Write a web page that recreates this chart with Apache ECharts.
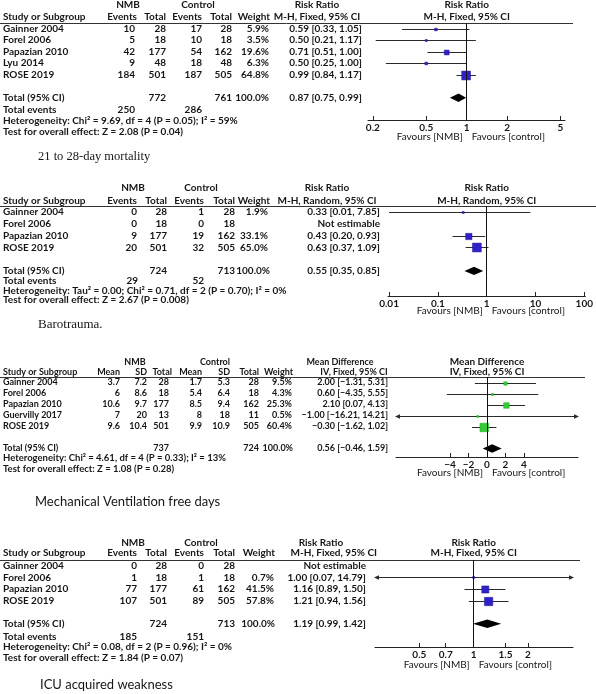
<!DOCTYPE html>
<html><head><meta charset="utf-8">
<script src="https://cdn.jsdelivr.net/npm/echarts@6/dist/echarts.min.js"></script>
<style>html,body{margin:0;padding:0;background:#fff}#c{width:596px;height:694px}</style>
</head><body><div id="c"></div><script>
// ===================== DATA =====================
// Panel 1: 21 to 28-day mortality (Risk Ratio, M-H, Fixed)
const mortStudies = ['Gainner 2004', 'Forel 2006', 'Papazian 2010', 'Lyu 2014', 'ROSE 2019'];
const mortNmbEvents = [10, 5, 42, 9, 184];
const mortNmbTotal = [28, 18, 177, 48, 501];
const mortCtlEvents = [17, 10, 54, 18, 187];
const mortCtlTotal = [28, 18, 162, 48, 505];
const mortWeight = [5.9, 3.5, 19.6, 6.3, 64.8];
const mortEst = [0.59, 0.50, 0.71, 0.50, 0.99];
const mortLo = [0.33, 0.21, 0.51, 0.25, 0.84];
const mortHi = [1.05, 1.17, 1.00, 1.00, 1.17];
const mortPooled = [0.87, 0.75, 0.99];
const mortTotals = [772, 761];
const mortTotalEvents = [250, 286];
const mortTicks = [0.2, 0.5, 1, 2, 5];
const mortHet = 'Heterogeneity: Chi² = 9.69, df = 4 (P = 0.05); I² = 59%';
const mortTest = 'Test for overall effect: Z = 2.08 (P = 0.04)';

// Panel 2: Barotrauma (Risk Ratio, M-H, Random)
const baroStudies = ['Gainner 2004', 'Forel 2006', 'Papazian 2010', 'ROSE 2019'];
const baroNmbEvents = [0, 0, 9, 20];
const baroNmbTotal = [28, 18, 177, 501];
const baroCtlEvents = [1, 0, 19, 32];
const baroCtlTotal = [28, 18, 162, 505];
const baroWeight = [1.9, null, 33.1, 65.0];
const baroEst = [0.33, null, 0.43, 0.63];
const baroLo = [0.01, null, 0.20, 0.37];
const baroHi = [7.85, null, 0.93, 1.09];
const baroPooled = [0.55, 0.35, 0.85];
const baroTotals = [724, 713];
const baroTotalEvents = [29, 52];
const baroTicks = [0.01, 0.1, 1, 10, 100];
const baroHet = 'Heterogeneity: Tau² = 0.00; Chi² = 0.71, df = 2 (P = 0.70); I² = 0%';
const baroTest = 'Test for overall effect: Z = 2.67 (P = 0.008)';

// Panel 3: Mechanical ventilation free days (Mean Difference, IV, Fixed)
const mvfdStudies = ['Gainner 2004', 'Forel 2006', 'Papazian 2010', 'Guervilly 2017', 'ROSE 2019'];
const mvfdNmbMean = [3.7, 6, 10.6, 7, 9.6];
const mvfdNmbSD = [7.2, 8.6, 9.7, 20, 10.4];
const mvfdNmbTotal = [28, 18, 177, 13, 501];
const mvfdCtlMean = [1.7, 5.4, 8.5, 8, 9.9];
const mvfdCtlSD = [5.3, 6.4, 9.4, 18, 10.9];
const mvfdCtlTotal = [28, 18, 162, 11, 505];
const mvfdWeight = [9.5, 4.3, 25.3, 0.5, 60.4];
const mvfdEst = [2.00, 0.60, 2.10, -1.00, -0.30];
const mvfdLo = [-1.31, -4.35, 0.07, -16.21, -1.62];
const mvfdHi = [5.31, 5.55, 4.13, 14.21, 1.02];
const mvfdPooled = [0.56, -0.46, 1.59];
const mvfdTotals = [737, 724];
const mvfdTicks = [-4, -2, 0, 2, 4];
const mvfdHet = 'Heterogeneity: Chi² = 4.61, df = 4 (P = 0.33); I² = 13%';
const mvfdTest = 'Test for overall effect: Z = 1.08 (P = 0.28)';

// Panel 4: ICU acquired weakness (Risk Ratio, M-H, Fixed)
const icuStudies = ['Gainner 2004', 'Forel 2006', 'Papazian 2010', 'ROSE 2019'];
const icuNmbEvents = [0, 1, 77, 107];
const icuNmbTotal = [28, 18, 177, 501];
const icuCtlEvents = [0, 1, 61, 89];
const icuCtlTotal = [28, 18, 162, 505];
const icuWeight = [null, 0.7, 41.5, 57.8];
const icuEst = [null, 1.00, 1.16, 1.21];
const icuLo = [null, 0.07, 0.89, 0.94];
const icuHi = [null, 14.79, 1.50, 1.56];
const icuPooled = [1.19, 0.99, 1.42];
const icuTotals = [724, 713];
const icuTotalEvents = [185, 151];
const icuTicks = [0.5, 0.7, 1, 1.5, 2];
const icuHet = 'Heterogeneity: Chi² = 0.08, df = 2 (P = 0.96); I² = 0%';
const icuTest = 'Test for overall effect: Z = 1.84 (P = 0.07)';

// ===================== RENDER =====================
const FONT = 'Lato';
const BLUE = '#3020cc';
const GREEN = '#33cc33';
const TXT = '#161616';

const fmtNum = v => (v < 0 ? '\u2212' + Math.abs(v) : String(v));
const fmt2 = v => (v < 0 ? '\u2212' + Math.abs(v).toFixed(2) : v.toFixed(2));
const ciText = (e, l, h) => e == null ? 'Not estimable' : fmt2(e) + ' [' + fmt2(l) + ', ' + fmt2(h) + ']';
const wText = w => w == null ? '' : w.toFixed(1) + '%';

const panels = [
  { top: 23, rowH: 11.5, axisY: 120, left: 368, right: 565, type: 'log', min: 0.184, max: 5.4,
    ticks: mortTicks, nullV: 1, color: BLUE, est: mortEst, lo: mortLo, hi: mortHi, w: mortWeight,
    pooled: mortPooled, totalRow: 6, favY: 137 },
  { top: 206, rowH: 11.8, axisY: 296, left: 388, right: 587, type: 'log', min: 0.0095, max: 105,
    ticks: baroTicks, nullV: 1, color: BLUE, est: baroEst, lo: baroLo, hi: baroHi, w: baroWeight,
    pooled: baroPooled, totalRow: 5, favY: 311 },
  { top: 377, rowH: 11, axisY: 457, left: 396, right: 578, type: 'value', min: -9.85, max: 9.85,
    ticks: mvfdTicks, nullV: 0, color: GREEN, est: mvfdEst, lo: mvfdLo, hi: mvfdHi, w: mvfdWeight,
    pooled: mvfdPooled, totalRow: 6, favY: 473 },
  { top: 560, rowH: 11.6, axisY: 647, left: 375, right: 573, type: 'log', min: 0.284, max: 3.55,
    ticks: icuTicks, nullV: 1, color: BLUE, est: icuEst, lo: icuLo, hi: icuHi, w: icuWeight,
    pooled: icuPooled, totalRow: 5, favY: 665 }
];
const rowY = (p, i) => p.top + (i + 0.5) * p.rowH;

function makeStudyRender(color) {
  return function (params, api) {
    const cs = params.coordSys;
    const est = api.value(0), lo = api.value(1), hi = api.value(2), row = api.value(3), w = api.value(4);
    const y = Math.round(api.coord([est, row])[1]) + 0.5;
    const xmin = cs.x, xmax = cs.x + cs.width;
    let xl = api.coord([lo, row])[0], xh = api.coord([hi, row])[0];
    const xe = api.coord([est, row])[0];
    const ch = [];
    let aL = false, aR = false;
    if (xl < xmin) { xl = xmin; aL = true; }
    if (xh > xmax) { xh = xmax; aR = true; }
    ch.push({ type: 'line', shape: { x1: xl, y1: y, x2: xh, y2: y }, style: { stroke: '#2a2a2a', lineWidth: 1 } });
    if (aL) ch.push({ type: 'polygon', shape: { points: [[xmin - 1, y], [xmin + 4, y - 2.2], [xmin + 4, y + 2.2]] }, style: { fill: '#2a2a2a' } });
    if (aR) ch.push({ type: 'polygon', shape: { points: [[xmax + 1, y], [xmax - 4, y - 2.2], [xmax - 4, y + 2.2]] }, style: { fill: '#2a2a2a' } });
    const s = Math.max(2, 1.1 * Math.sqrt(w));
    ch.push({ type: 'rect', shape: { x: xe - s / 2, y: y - s / 2, width: s, height: s }, style: { fill: color, stroke: color === BLUE ? '#20158a' : '#22aa22', lineWidth: 0.5 } });
    return { type: 'group', children: ch };
  };
}
function renderDiamond(params, api) {
  const e = api.coord([api.value(0), api.value(3)]);
  const l = api.coord([api.value(1), api.value(3)]);
  const h = api.coord([api.value(2), api.value(3)]);
  const y = e[1];
  return { type: 'polygon', shape: { points: [[l[0], y], [e[0], y - 4.2], [h[0], y], [e[0], y + 4.2]] }, style: { fill: '#000' } };
}

const grids = [], xAxes = [], yAxes = [], series = [];
panels.forEach((p, k) => {
  grids.push({ left: p.left, top: p.top, width: p.right - p.left, height: p.axisY - p.top });
  const labels = p.ticks;
  xAxes.push({
    gridIndex: k, type: p.type, logBase: 10, min: p.min, max: p.max, position: 'bottom',
    axisLine: { show: true, onZero: false, lineStyle: { color: '#222', width: 1 } },
    axisTick: { show: true, inside: true, length: 4, customValues: p.ticks, lineStyle: { color: '#222' } },
    axisLabel: {
      customValues: p.ticks, margin: 3, fontFamily: FONT, fontSize: 10, fontWeight: 'bold', color: TXT,
      formatter: v => { let best = labels[0]; labels.forEach(t => { if (Math.abs(t - v) < Math.abs(best - v)) best = t; }); return fmtNum(best); }
    },
    splitLine: { show: false }, minorTick: { show: false }
  });
  yAxes.push({ gridIndex: k, type: 'value', inverse: true, min: -0.5, max: (p.axisY - p.top) / p.rowH - 0.5, show: false });
  const data = [];
  p.est.forEach((e, i) => { if (e != null) data.push([e, p.lo[i], p.hi[i], i, p.w[i]]); });
  series.push({
    type: 'custom', xAxisIndex: k, yAxisIndex: k, clip: false, silent: true,
    renderItem: makeStudyRender(p.color), data,
    markLine: { silent: true, symbol: 'none', animation: false, label: { show: false },
      lineStyle: { color: '#111', width: 1, type: 'solid' }, data: [{ xAxis: p.nullV }] }
  });
  series.push({
    type: 'custom', xAxisIndex: k, yAxisIndex: k, clip: false, silent: true,
    renderItem: renderDiamond, data: [[p.pooled[0], p.pooled[1], p.pooled[2], p.totalRow]]
  });
});

const chart = echarts.init(document.getElementById('c'), null, { renderer: 'canvas' });
chart.setOption({ animation: false, grid: grids, xAxis: xAxes, yAxis: yAxes, series });

// ---------- text table ----------
const G = [];
let FS = 10;
function T(x, y, text, align, weight, size, family) {
  G.push({ type: 'text', x: x, y: y, silent: true, style: {
    text: String(text), textAlign: align || 'left', textVerticalAlign: 'middle',
    font: (weight || 'bold') + ' ' + (size || FS) + 'px ' + (family || FONT), fill: TXT } });
}
function HL(x1, x2, y) {
  G.push({ type: 'line', silent: true, shape: { x1: x1, y1: y + 0.5, x2: x2, y2: y + 0.5 }, style: { stroke: '#333', lineWidth: 1 } });
}
function nullX(k) { return chart.convertToPixel({ xAxisIndex: k }, panels[k].nullV); }
function favours(k) {
  const nx = nullX(k), y = panels[k].favY;
  T(nx - 4, y, 'Favours [NMB]', 'right', 'normal', 10);
  T(nx + 5, y, 'Favours [control]', 'left', 'normal', 10);
}

// Panel 1
(function () {
  FS = 10;
  const p = panels[0], nx = nullX(0);
  T(128, 5, 'NMB', 'center'); T(198, 5, 'Control', 'center'); T(317, 5, 'Risk Ratio', 'center'); T(nx, 5, 'Risk Ratio', 'center');
  const hy = 17;
  T(3, hy, 'Study or Subgroup'); T(137, hy, 'Events', 'right'); T(166, hy, 'Total', 'right');
  T(202, hy, 'Events', 'right'); T(232, hy, 'Total', 'right'); T(270, hy, 'Weight', 'right');
  T(317, hy, 'M-H, Fixed, 95% CI', 'center'); T(nx, hy, 'M-H, Fixed, 95% CI', 'center');
  HL(0, 573, p.top);
  mortStudies.forEach((s, i) => {
    const y = rowY(p, i);
    T(3, y, s); T(135, y, mortNmbEvents[i], 'right'); T(166, y, mortNmbTotal[i], 'right');
    T(202, y, mortCtlEvents[i], 'right'); T(232, y, mortCtlTotal[i], 'right'); T(269, y, wText(mortWeight[i]), 'right');
    T(362, y, ciText(mortEst[i], mortLo[i], mortHi[i]), 'right');
  });
  const ty = rowY(p, p.totalRow);
  T(3, ty, 'Total (95% CI)'); T(166, ty, mortTotals[0], 'right'); T(232, ty, mortTotals[1], 'right');
  T(269, ty, '100.0%', 'right'); T(362, ty, ciText(mortPooled[0], mortPooled[1], mortPooled[2]), 'right');
  T(3, 110, 'Total events'); T(135, 110, mortTotalEvents[0], 'right'); T(202, 110, mortTotalEvents[1], 'right');
  T(3, 121, mortHet); T(3, 132, mortTest);
  T(38, 157, '21 to 28-day mortality', 'left', 'normal', 12.5, 'Liberation Serif');
  favours(0);
})();

// Panel 2
(function () {
  FS = 10;
  const p = panels[1], nx = nullX(1);
  T(133, 188, 'NMB', 'center'); T(201, 188, 'Control', 'center'); T(327, 188, 'Risk Ratio', 'center'); T(nx, 188, 'Risk Ratio', 'center');
  const hy = 201;
  T(3, hy, 'Study or Subgroup'); T(137, hy, 'Events', 'right'); T(167, hy, 'Total', 'right');
  T(204, hy, 'Events', 'right'); T(235, hy, 'Total', 'right'); T(270, hy, 'Weight', 'right');
  T(327, hy, 'M-H, Random, 95% CI', 'center'); T(nx, hy, 'M-H, Random, 95% CI', 'center');
  HL(0, 596, p.top);
  baroStudies.forEach((s, i) => {
    const y = rowY(p, i);
    T(3, y, s); T(137, y, baroNmbEvents[i], 'right'); T(167, y, baroNmbTotal[i], 'right');
    T(204, y, baroCtlEvents[i], 'right'); T(235, y, baroCtlTotal[i], 'right'); T(268, y, wText(baroWeight[i]), 'right');
    T(380, y, ciText(baroEst[i], baroLo[i], baroHi[i]), 'right');
  });
  const ty = rowY(p, p.totalRow);
  T(3, ty, 'Total (95% CI)'); T(167, ty, baroTotals[0], 'right'); T(235, ty, baroTotals[1], 'right');
  T(270, ty, '100.0%', 'right'); T(380, ty, ciText(baroPooled[0], baroPooled[1], baroPooled[2]), 'right');
  T(3, 281, 'Total events'); T(138, 281, baroTotalEvents[0], 'right'); T(204, 281, baroTotalEvents[1], 'right');
  T(3, 290.5, baroHet); T(3, 300, baroTest);
  T(38, 325, 'Barotrauma.', 'left', 'normal', 13, 'Liberation Serif');
  favours(1);
})();

// Panel 3
(function () {
  FS = 9;
  const p = panels[2], nx = nullX(2);
  T(135, 362, 'NMB', 'center'); T(215, 362, 'Control', 'center'); T(340, 362, 'Mean Difference', 'center'); T(nx, 362, 'Mean Difference', 'center', 'bold', 10);
  const hy = 372;
  T(3, hy, 'Study or Subgroup'); T(120, hy, 'Mean', 'right'); T(147, hy, 'SD', 'right'); T(172, hy, 'Total', 'right');
  T(202, hy, 'Mean', 'right'); T(230, hy, 'SD', 'right'); T(259, hy, 'Total', 'right'); T(293, hy, 'Weight', 'right');
  T(354, hy, 'IV, Fixed, 95% CI', 'center'); T(nx, hy, 'IV, Fixed, 95% CI', 'center', 'bold', 10);
  HL(0, 585, p.top);
  mvfdStudies.forEach((s, i) => {
    const y = rowY(p, i);
    T(3, y, s); T(120, y, fmtNum(mvfdNmbMean[i]), 'right'); T(147, y, fmtNum(mvfdNmbSD[i]), 'right'); T(169, y, mvfdNmbTotal[i], 'right');
    T(202, y, fmtNum(mvfdCtlMean[i]), 'right'); T(230, y, fmtNum(mvfdCtlSD[i]), 'right'); T(259, y, mvfdCtlTotal[i], 'right');
    T(292, y, wText(mvfdWeight[i]), 'right');
    T(388, y, ciText(mvfdEst[i], mvfdLo[i], mvfdHi[i]), 'right');
  });
  const ty = rowY(p, p.totalRow);
  T(3, ty, 'Total (95% CI)'); T(169, ty, mvfdTotals[0], 'right'); T(259, ty, mvfdTotals[1], 'right');
  T(293, ty, '100.0%', 'right'); T(388, ty, ciText(mvfdPooled[0], mvfdPooled[1], mvfdPooled[2]), 'right');
  T(3, 458, mvfdHet, 'left', 'bold', 9.5); T(3, 469, mvfdTest, 'left', 'bold', 9.5);
  T(35, 502, 'Mechanical Ventilation free days', 'left', 'normal', 13, FONT);
  favours(2);
})();

// Panel 4
(function () {
  FS = 10;
  const p = panels[3], nx = nullX(3);
  T(133, 543, 'NMB', 'center'); T(201, 543, 'Control', 'center'); T(321, 543, 'Risk Ratio', 'center'); T(nx, 543, 'Risk Ratio', 'center');
  const hy = 553;
  T(3, hy, 'Study or Subgroup'); T(137, hy, 'Events', 'right'); T(167, hy, 'Total', 'right');
  T(204, hy, 'Events', 'right'); T(235, hy, 'Total', 'right'); T(275, hy, 'Weight', 'right');
  T(377, hy, 'M-H, Fixed, 95% CI', 'right'); T(nx, hy, 'M-H, Fixed, 95% CI', 'center');
  HL(0, 580, p.top);
  icuStudies.forEach((s, i) => {
    const y = rowY(p, i);
    T(3, y, s); T(137, y, icuNmbEvents[i], 'right'); T(167, y, icuNmbTotal[i], 'right');
    T(204, y, icuCtlEvents[i], 'right'); T(235, y, icuCtlTotal[i], 'right'); T(274, y, wText(icuWeight[i]), 'right');
    T(366, y, ciText(icuEst[i], icuLo[i], icuHi[i]), 'right');
  });
  const ty = rowY(p, p.totalRow);
  T(3, ty, 'Total (95% CI)'); T(167, ty, icuTotals[0], 'right'); T(235, ty, icuTotals[1], 'right');
  T(275, ty, '100.0%', 'right'); T(366, ty, ciText(icuPooled[0], icuPooled[1], icuPooled[2]), 'right');
  T(3, 637, 'Total events'); T(137, 637, icuTotalEvents[0], 'right'); T(204, 637, icuTotalEvents[1], 'right');
  T(3, 647, icuHet); T(3, 658, icuTest);
  T(40, 685, 'ICU acquired weakness', 'left', 'normal', 13, FONT);
  favours(3);
})();

chart.setOption({ graphic: G });
</script></body></html>
